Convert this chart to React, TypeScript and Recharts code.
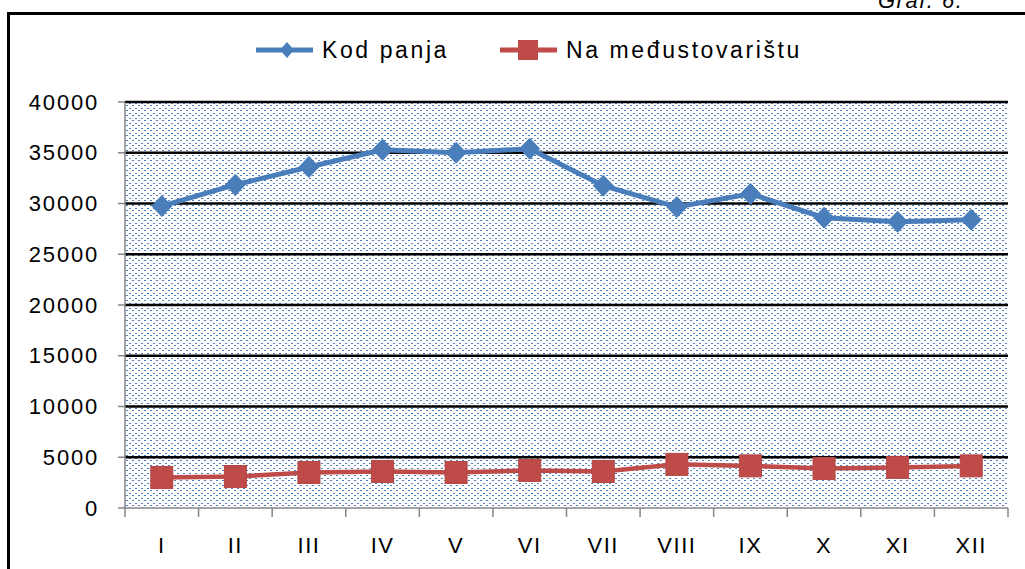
import React from 'react';
import { LineChart, Line, XAxis, YAxis, CartesianGrid, Legend } from 'recharts';

const months = ['I', 'II', 'III', 'IV', 'V', 'VI', 'VII', 'VIII', 'IX', 'X', 'XI', 'XII'];
const kodPanja = [29750, 31850, 33600, 35300, 35000, 35400, 31750, 29650, 30950, 28600, 28200, 28400];
const naMedjustovaristu = [3000, 3100, 3500, 3600, 3500, 3700, 3600, 4300, 4150, 3900, 4000, 4150];
const yTicks = [0, 5000, 10000, 15000, 20000, 25000, 30000, 35000, 40000];
const gridValues = yTicks.slice(1);
const seriesNames = ['Kod panja', 'Na međustovarištu'];

const data = months.map((m, i) => ({ month: m, kod: kodPanja[i], na: naMedjustovaristu[i] }));

const W = 1025;
const H = 569;
const MARGIN = { top: 62, right: 17, bottom: 31, left: 10 };
const YW = 115;
const XH = 30;
const PLOT_W = W - MARGIN.left - YW - MARGIN.right;
const HALF = PLOT_W / months.length / 2;

const BLUE = '#4A7EBB';
const RED = '#BE4B48';
const AXIS = '#868686';
const FONT = 'Arial, "Liberation Sans", sans-serif';

const Diamond = (props: any) => {
  const { cx, cy } = props;
  if (cx == null || cy == null) return null;
  return (
    <polygon
      points={`${cx},${cy - 10.5} ${cx + 10},${cy} ${cx},${cy + 10.5} ${cx - 10},${cy}`}
      fill={BLUE}
      stroke={BLUE}
      strokeWidth={1}
    />
  );
};

const Square = (props: any) => {
  const { cx, cy } = props;
  if (cx == null || cy == null) return null;
  return <rect x={cx - 11} y={cy - 11} width={22} height={22} fill={RED} stroke="#B54744" strokeWidth={1} />;
};

const XTick = (props: any) => {
  const { x, y, payload, index } = props;
  return (
    <g>
      <line x1={x - HALF} x2={x - HALF} y1={y} y2={y + 9} stroke={AXIS} strokeWidth={1.5} />
      {index === months.length - 1 && (
        <line x1={x + HALF} x2={x + HALF} y1={y} y2={y + 9} stroke={AXIS} strokeWidth={1.5} />
      )}
      <text x={x} y={y + 45} textAnchor="middle" fontSize={22} fontFamily={FONT} fill="#000" letterSpacing={1.5}>
        {payload.value}
      </text>
    </g>
  );
};

const YTick = (props: any) => {
  const { x, y, payload } = props;
  return (
    <text x={x} y={y} textAnchor="end" dominantBaseline="central" fontSize={22} fontFamily={FONT} fill="#000" letterSpacing={1.8}>
      {payload.value}
    </text>
  );
};

const LegendContent = () => {
  const items = [
    { label: seriesNames[0], color: BLUE, shape: 'diamond', x: 256 },
    { label: seriesNames[1], color: RED, shape: 'square', x: 500 },
  ];
  return (
    <svg width={W} height={40} style={{ display: 'block' }}>
      {items.map((it) => (
        <g key={it.label}>
          <line x1={it.x} x2={it.x + 57} y1={20} y2={20} stroke={it.color} strokeWidth={5} />
          {it.shape === 'diamond' ? (
            <polygon
              points={`${it.x + 31},${20 - 8} ${it.x + 38},${20} ${it.x + 31},${20 + 8} ${it.x + 24},${20}`}
              fill={it.color}
            />
          ) : (
            <rect x={it.x + 18} y={20 - 10} width={20} height={20} fill={it.color} />
          )}
          <text x={it.x + 66} y={20} dominantBaseline="central" fontSize={23} fontFamily={FONT} fill="#000" letterSpacing={2.6}>
            {it.label}
          </text>
        </g>
      ))}
    </svg>
  );
};

export default function App() {
  return (
    <div style={{ position: 'absolute', left: 0, top: 0, width: W, height: H, overflow: 'hidden', background: '#fff' }}>
      <div
        style={{
          position: 'absolute',
          left: 7,
          top: 12,
          width: W + 50,
          height: H + 50,
          borderTop: '3px solid #000',
          borderLeft: '3px solid #000',
        }}
      />
      <div
        style={{
          position: 'absolute',
          left: 878,
          top: -10,
          fontFamily: FONT,
          fontStyle: 'italic',
          fontSize: 22,
          lineHeight: '22px',
          letterSpacing: 1.5,
          color: '#000',
          whiteSpace: 'nowrap',
        }}
      >
        Graf. 6.
      </div>
      <div style={{ position: 'absolute', left: 0, top: 0 }}>
        <LineChart width={W} height={H} data={data} margin={MARGIN}>
          <defs>
            <pattern id="dots" patternUnits="userSpaceOnUse" width={6} height={5}>
              <rect x={0} y={0} width={6} height={5} fill="#fff" />
              <rect x={0} y={0} width={2} height={1} fill="#4F81BD" />
              <rect x={3} y={3} width={2} height={1} fill="#4F81BD" />
            </pattern>
          </defs>
          <CartesianGrid
            vertical={false}
            horizontalValues={gridValues}
            stroke="#000"
            strokeWidth={2.5}
            fill="url(#dots)"
            fillOpacity={1}
          />
          <XAxis
            dataKey="month"
            height={XH}
            interval={0}
            tickLine={false}
            tickSize={0}
            tickMargin={0}
            padding={{ left: HALF, right: HALF }}
            axisLine={{ stroke: AXIS, strokeWidth: 1.5 }}
            tick={<XTick />}
          />
          <YAxis
            width={YW}
            domain={[0, 40000]}
            ticks={yTicks}
            interval={0}
            tickSize={7}
            tickMargin={19}
            axisLine={{ stroke: AXIS, strokeWidth: 1.5 }}
            tickLine={{ stroke: AXIS, strokeWidth: 1.5 }}
            tick={<YTick />}
          />
          <Legend
            verticalAlign="top"
            height={40}
            content={<LegendContent />}
            wrapperStyle={{ top: 30, left: 0, width: W, height: 40 }}
          />
          <Line
            type="linear"
            dataKey="kod"
            name={seriesNames[0]}
            stroke={BLUE}
            strokeWidth={5}
            dot={<Diamond />}
            activeDot={false}
            isAnimationActive={false}
          />
          <Line
            type="linear"
            dataKey="na"
            name={seriesNames[1]}
            stroke={RED}
            strokeWidth={4.5}
            dot={<Square />}
            activeDot={false}
            isAnimationActive={false}
          />
        </LineChart>
      </div>
    </div>
  );
}
